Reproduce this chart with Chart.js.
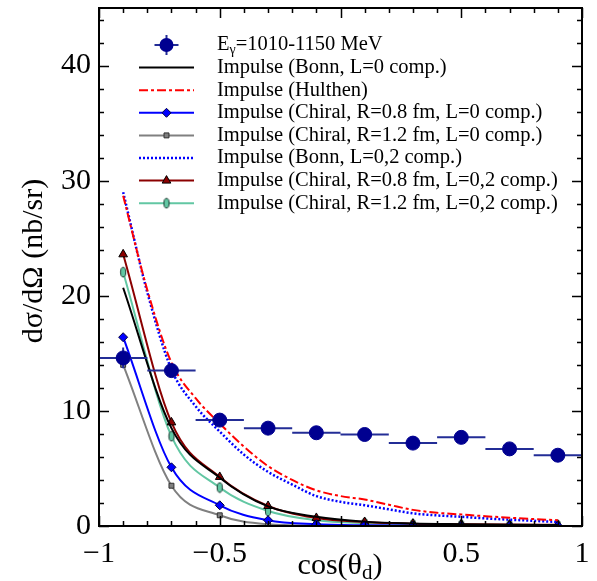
<!DOCTYPE html>
<html>
<head>
<meta charset="utf-8">
<script src="https://cdn.jsdelivr.net/npm/chart.js@4.4.0/dist/chart.umd.min.js"></script>
<style>
  html, body { margin: 0; padding: 0; background: #fff; }
  #chart { display: block; }
</style>
</head>
<body>
<canvas id="chart" width="597" height="581"></canvas>
<script>
// measured points (bin centres, bin half width, stat. errors)
const binCos = [-0.9, -0.7, -0.5, -0.3, -0.1, 0.1, 0.3, 0.5, 0.7, 0.9];
const binHalfWidth = [0.1, 0.1, 0.1, 0.1, 0.1, 0.1, 0.1, 0.1, 0.1, 0.1];
const measured = [14.6, 13.5, 9.2, 8.5, 8.1, 7.95, 7.2, 7.7, 6.7, 6.15];
const measuredErr = [0.9, 0.6, 0.3, 0.3, 0.3, 0.3, 0.3, 0.3, 0.3, 0.3];

// impulse calculations at the bin centres
const bonnL0 = [20.7, 8.5, 4.2, 1.7, 0.8, 0.38, 0.22, 0.15, 0.1, 0.08];
const chiral08L0 = [16.4, 5.1, 1.8, 0.5, 0.15, 0.06, 0.03, 0.02, 0.02, 0.02];
const chiral12L0 = [14.0, 3.5, 0.93, 0.15, 0.03, 0.01, 0.01, 0.01, 0.01, 0.01];
const chiral08L02 = [23.6, 9.0, 4.26, 1.74, 0.7, 0.35, 0.2, 0.15, 0.12, 0.1];
const chiral12L02 = [22.05, 7.8, 3.34, 1.3, 0.5, 0.25, 0.15, 0.1, 0.08, 0.07];

// finer grid for the curves without markers
const fineCos = [-0.9, -0.8, -0.7, -0.6, -0.5, -0.4, -0.3, -0.2, -0.1, 0, 0.1, 0.2, 0.3, 0.4, 0.5, 0.6, 0.7, 0.8, 0.9];
const hulthen = [28.7, 20.5, 14.2, 11.1, 8.9, 6.9, 5.2, 4.0, 3.1, 2.6, 2.3, 1.85, 1.4, 1.15, 1.0, 0.85, 0.72, 0.6, 0.5];
const bonnL02 = [29.0, 20.3, 13.6, 10.4, 8.2, 6.2, 4.7, 3.6, 2.6, 2.1, 1.8, 1.45, 1.1, 0.92, 0.8, 0.66, 0.55, 0.45, 0.35];

const xTickValues = [-1, -0.5, 0.5, 1];
const xTickLabels = ['\u22121', '\u22120.5', '0.5', '1'];
const yTickValues = [0, 10, 20, 30, 40];
const yTickLabels = ['0', '10', '20', '30', '40'];

const legendLabels = [
  'E\u03b3=1010-1150 MeV',
  'Impulse (Bonn, L=0 comp.)',
  'Impulse (Hulthen)',
  'Impulse (Chiral, R=0.8 fm, L=0 comp.)',
  'Impulse (Chiral, R=1.2 fm, L=0 comp.)',
  'Impulse (Bonn, L=0,2 comp.)',
  'Impulse (Chiral, R=0.8 fm, L=0,2 comp.)',
  'Impulse (Chiral, R=1.2 fm, L=0,2 comp.)'
];

const SERIF = "'Liberation Serif', 'DejaVu Serif', serif";
const NAVY = '#000090';
const BAR = 'rgb(35,45,150)';
const TEAL = '#62c7a3';
const DARKRED = '#8b0000';

const pairs = (xs, ys) => xs.map((x, i) => ({ x: x, y: ys[i] }));

// error bars as broken line segments
const hBars = [];
const vBars = [];
binCos.forEach((x, i) => {
  hBars.push({ x: x - binHalfWidth[i], y: measured[i] }, { x: x + binHalfWidth[i], y: measured[i] }, { x: x + binHalfWidth[i], y: null });
  vBars.push({ x: x, y: measured[i] - measuredErr[i] }, { x: x, y: measured[i] + measuredErr[i] }, { x: x, y: null });
});

// small upright ellipse marker
const ellipse = document.createElement('canvas');
ellipse.width = 8; ellipse.height = 12;
(function () {
  const c = ellipse.getContext('2d');
  c.beginPath();
  c.ellipse(4, 6, 2.6, 4.8, 0, 0, Math.PI * 2);
  c.fillStyle = TEAL;
  c.fill();
  c.lineWidth = 1;
  c.strokeStyle = '#1d3d33';
  c.stroke();
})();

const curve = (label, data, color, extra) => Object.assign({
  label: label,
  data: data,
  borderColor: color,
  backgroundColor: color,
  borderWidth: 2,
  pointRadius: 0,
  cubicInterpolationMode: 'monotone',
  order: 3
}, extra || {});

const datasets = [
  { label: legendLabels[0], data: pairs(binCos, measured), showLine: false, pointRadius: 7, pointHoverRadius: 7,
    backgroundColor: NAVY, borderColor: NAVY, order: 0 },
  { label: 'hbars', data: hBars, borderColor: BAR, borderWidth: 2, pointRadius: 0, spanGaps: false, order: 1 },
  { label: 'vbars', data: vBars, borderColor: BAR, borderWidth: 2, pointRadius: 0, spanGaps: false, order: 1 },
  curve(legendLabels[1], pairs(binCos, bonnL0), '#000000'),
  curve(legendLabels[2], pairs(fineCos, hulthen), '#ff0000', { borderDash: [9, 3, 3, 3] }),
  curve(legendLabels[3], pairs(binCos, chiral08L0), '#0000ff', { pointRadius: 4.5, pointStyle: 'rectRot', pointBorderColor: '#000040', pointBorderWidth: 1 }),
  curve(legendLabels[4], pairs(binCos, chiral12L0), '#808080', { pointRadius: 3.5, pointStyle: 'rect', pointBorderColor: '#303030', pointBorderWidth: 1 }),
  curve(legendLabels[5], pairs(fineCos, bonnL02), '#0000ff', { borderDash: [2, 2], borderWidth: 2.5 }),
  curve(legendLabels[6], pairs(binCos, chiral08L02), DARKRED, { pointRadius: 5, pointStyle: 'triangle', pointBorderColor: '#000000', pointBorderWidth: 1 }),
  curve(legendLabels[7], pairs(binCos, chiral12L02), TEAL, { pointRadius: 4, pointStyle: ellipse })
];

const frame = {
  id: 'frame',
  afterDraw(chart) {
    const { ctx, chartArea: a, scales: { x, y } } = chart;
    ctx.save();
    ctx.strokeStyle = '#000';
    ctx.lineWidth = 2;
    ctx.strokeRect(a.left, a.top, a.right - a.left, a.bottom - a.top);
    ctx.lineWidth = 1.5;
    ctx.beginPath();
    for (let i = 0; i <= 20; i++) {
      const v = -1 + i * 0.1;
      const px = Math.round(x.getPixelForValue(v)) + 0.5;
      const len = i % 5 === 0 ? 10 : 5;
      ctx.moveTo(px, a.bottom); ctx.lineTo(px, a.bottom - len);
      ctx.moveTo(px, a.top); ctx.lineTo(px, a.top + len);
    }
    for (let v = 0; v <= 44; v += 2) {
      const py = Math.round(y.getPixelForValue(v)) + 0.5;
      const len = v % 10 === 0 ? 10 : 5;
      ctx.moveTo(a.left, py); ctx.lineTo(a.left + len, py);
      ctx.moveTo(a.right, py); ctx.lineTo(a.right - len, py);
    }
    ctx.stroke();

    // axis titles
    ctx.fillStyle = '#000';
    ctx.textBaseline = 'alphabetic';
    const base = 574;
    const t1 = 'cos(\u03b8', t2 = 'd', t3 = ')';
    ctx.font = '30px ' + SERIF; const w1 = ctx.measureText(t1).width; const w3 = ctx.measureText(t3).width;
    ctx.font = '21px ' + SERIF; const w2 = ctx.measureText(t2).width;
    let sx = 340 - (w1 + w2 + w3) / 2;
    ctx.font = '30px ' + SERIF; ctx.fillText(t1, sx, base); sx += w1;
    ctx.font = '21px ' + SERIF; ctx.fillText(t2, sx, base + 5); sx += w2;
    ctx.font = '30px ' + SERIF; ctx.fillText(t3, sx, base);

    ctx.save();
    ctx.translate(42, 261);
    ctx.rotate(-Math.PI / 2);
    ctx.textAlign = 'center';
    ctx.font = '30px ' + SERIF;
    ctx.fillText('d\u03c3/d\u03a9 (nb/sr)', 0, 0);
    ctx.restore();

    // legend
    const x0 = 139, x1 = 194, tx = 217;
    let ry = 45;
    ctx.textAlign = 'left';
    ctx.textBaseline = 'middle';
    const lf = '20.5px ' + SERIF;
    legendLabels.forEach((label, i) => {
      const ds = i === 0 ? chart.data.datasets[0] : chart.data.datasets[i + 2];
      const mx = (x0 + x1) / 2;
      if (i === 0) {
        ctx.strokeStyle = BAR; ctx.lineWidth = 2;
        ctx.beginPath();
        ctx.moveTo(mx - 12, ry); ctx.lineTo(mx + 12, ry);
        ctx.moveTo(mx, ry - 10); ctx.lineTo(mx, ry + 10);
        ctx.stroke();
        ctx.fillStyle = NAVY;
        ctx.beginPath(); ctx.arc(mx, ry, 7, 0, Math.PI * 2); ctx.fill();
        ctx.fillStyle = '#000';
        ctx.font = lf;
        ctx.fillText('E', tx, ry);
        const we = ctx.measureText('E').width;
        ctx.font = '14px ' + SERIF;
        ctx.fillText('\u03b3', tx + we, ry + 5);
        const wg = ctx.measureText('\u03b3').width;
        ctx.font = lf;
        ctx.fillText('=1010-1150 MeV', tx + we + wg, ry);
      } else {
        ctx.save();
        ctx.strokeStyle = ds.borderColor;
        ctx.lineWidth = ds.borderWidth;
        ctx.setLineDash(ds.borderDash || []);
        ctx.beginPath(); ctx.moveTo(x0, ry); ctx.lineTo(x1, ry); ctx.stroke();
        ctx.restore();
        if (ds.pointRadius > 0) {
          ctx.fillStyle = ds.backgroundColor;
          ctx.strokeStyle = ds.pointBorderColor || ds.borderColor;
          ctx.lineWidth = ds.pointBorderWidth || 1;
          Chart.helpers.drawPoint(ctx, { pointStyle: ds.pointStyle, radius: ds.pointRadius, rotation: 0, borderWidth: ds.pointBorderWidth || 1 }, mx, ry);
        }
        ctx.fillStyle = '#000';
        ctx.font = lf;
        ctx.fillText(label, tx, ry);
      }
      ry += 22.6;
    });
    ctx.restore();
  }
};

new Chart(document.getElementById('chart'), {
  type: 'line',
  data: { datasets: datasets },
  options: {
    responsive: false,
    animation: false,
    events: [],
    layout: { padding: { top: 8, right: 15, left: 0, bottom: 0 } },
    plugins: { legend: { display: false }, tooltip: { enabled: false } },
    scales: {
      x: {
        type: 'linear', min: -1, max: 1,
        afterBuildTicks: (axis) => { axis.ticks = xTickValues.map(v => ({ value: v })); },
        afterFit: (axis) => { axis.height = 55; axis.paddingLeft = 0; axis.paddingRight = 0; },
        ticks: { callback: (v, i) => xTickLabels[i], padding: 10, maxRotation: 0, color: '#000', font: { family: SERIF, size: 30 } },
        grid: { display: false, drawTicks: false },
        border: { display: false }
      },
      y: {
        min: 0, max: 45,
        afterBuildTicks: (axis) => { axis.ticks = yTickValues.map(v => ({ value: v })); },
        afterFit: (axis) => { axis.width = 99; axis.paddingTop = 0; axis.paddingBottom = 0; },
        ticks: { callback: (v, i) => yTickLabels[i], padding: 8, color: '#000', font: { family: SERIF, size: 30 } },
        grid: { display: false, drawTicks: false },
        border: { display: false }
      }
    }
  },
  plugins: [frame]
});
</script>
</body>
</html>
